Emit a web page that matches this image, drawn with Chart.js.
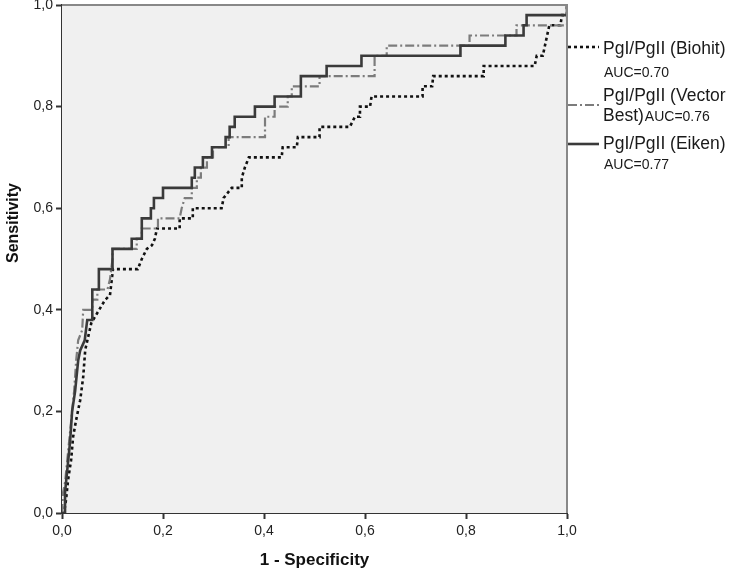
<!DOCTYPE html>
<html><head><meta charset="utf-8">
<script src="https://cdn.jsdelivr.net/npm/chart.js@4/dist/chart.umd.min.js"></script>
<style>html,body{margin:0;padding:0;background:#fff}canvas{display:block}</style>
</head><body>
<canvas id="c" width="730" height="576"></canvas>
<script>
// ---- data ----
const tickLabels = ['0,0', '0,2', '0,4', '0,6', '0,8', '1,0'];
const xTitle = '1 - Specificity';
const yTitle = 'Sensitivity';
const seriesNames = ['PgI/PgII (Biohit)', 'PgI/PgII (Vector Best)', 'PgI/PgII (Eiken)'];
const legendLines = [
  ['PgI/PgII (Biohit)', 'AUC=0.70'],
  ['PgI/PgII (Vector', 'Best)AUC=0.76'],
  ['PgI/PgII (Eiken)', 'AUC=0.77']
];

const biohitFpr = [0, 0.004, 0.008, 0.012, 0.018, 0.022, 0.028, 0.036, 0.042, 0.046,
  0.058, 0.085, 0.095, 0.101, 0.150, 0.158, 0.168, 0.178, 0.184, 0.188,
  0.233, 0.233, 0.259, 0.259, 0.316, 0.320, 0.328, 0.336, 0.356, 0.356,
  0.362, 0.370, 0.435, 0.437, 0.465, 0.467, 0.510, 0.510, 0.570, 0.580,
  0.590, 0.590, 0.610, 0.613, 0.714, 0.714, 0.733, 0.735, 0.835, 0.835,
  0.936, 0.940, 0.952, 0.965, 0.987, 0.990, 1.0, 1.0];
const biohitTpr = [0, 0, 0.026, 0.065, 0.104, 0.15, 0.183, 0.222, 0.268, 0.321,
  0.374, 0.419, 0.429, 0.48, 0.48, 0.50, 0.52, 0.527, 0.54, 0.56,
  0.56, 0.58, 0.58, 0.60, 0.60, 0.62, 0.63, 0.64, 0.64, 0.66,
  0.68, 0.70, 0.70, 0.72, 0.72, 0.74, 0.74, 0.76, 0.76, 0.78,
  0.78, 0.80, 0.80, 0.82, 0.82, 0.84, 0.84, 0.86, 0.86, 0.88,
  0.88, 0.90, 0.90, 0.96, 0.96, 0.98, 0.98, 1.0];

const vectorFpr = [0, 0.002, 0.006, 0.010, 0.014, 0.020, 0.024, 0.028, 0.032, 0.040,
  0.042, 0.060, 0.060, 0.070, 0.070, 0.090, 0.095, 0.100, 0.100, 0.148,
  0.148, 0.158, 0.158, 0.190, 0.190, 0.233, 0.237, 0.243, 0.257, 0.257,
  0.267, 0.267, 0.275, 0.275, 0.287, 0.287, 0.299, 0.299, 0.330, 0.330,
  0.402, 0.402, 0.421, 0.421, 0.447, 0.447, 0.455, 0.455, 0.510, 0.510,
  0.619, 0.619, 0.643, 0.643, 0.807, 0.807, 0.900, 0.900, 1.0, 1.0];
const vectorTpr = [0, 0.04, 0.06, 0.10, 0.14, 0.20, 0.24, 0.30, 0.34, 0.36,
  0.40, 0.40, 0.42, 0.42, 0.44, 0.44, 0.46, 0.50, 0.52, 0.52,
  0.54, 0.54, 0.56, 0.56, 0.58, 0.58, 0.60, 0.62, 0.62, 0.64,
  0.64, 0.66, 0.66, 0.68, 0.68, 0.70, 0.70, 0.72, 0.72, 0.74,
  0.74, 0.78, 0.78, 0.80, 0.80, 0.82, 0.82, 0.84, 0.84, 0.86,
  0.86, 0.90, 0.90, 0.92, 0.92, 0.94, 0.94, 0.96, 0.96, 1.0];

const eikenFpr = [0, 0.006, 0.006, 0.010, 0.016, 0.020, 0.026, 0.032, 0.036, 0.045,
  0.050, 0.060, 0.060, 0.073, 0.073, 0.100, 0.100, 0.138, 0.138, 0.158,
  0.158, 0.176, 0.176, 0.182, 0.182, 0.200, 0.200, 0.257, 0.257, 0.263,
  0.263, 0.279, 0.279, 0.297, 0.297, 0.324, 0.324, 0.332, 0.332, 0.342,
  0.342, 0.382, 0.382, 0.421, 0.421, 0.473, 0.473, 0.524, 0.524, 0.593,
  0.593, 0.789, 0.789, 0.878, 0.878, 0.914, 0.914, 0.920, 0.920, 1.0, 1.0];
const eikenTpr = [0, 0, 0.04, 0.08, 0.14, 0.20, 0.24, 0.30, 0.32, 0.34,
  0.38, 0.38, 0.44, 0.44, 0.48, 0.48, 0.52, 0.52, 0.54, 0.54,
  0.58, 0.58, 0.60, 0.60, 0.62, 0.62, 0.64, 0.64, 0.66, 0.66,
  0.68, 0.68, 0.70, 0.70, 0.72, 0.72, 0.74, 0.74, 0.76, 0.76,
  0.78, 0.78, 0.80, 0.80, 0.82, 0.82, 0.86, 0.86, 0.88, 0.88,
  0.90, 0.90, 0.92, 0.92, 0.94, 0.94, 0.96, 0.96, 0.98, 0.98, 1.0];

// ---- styles ----
const FONT = '"Liberation Sans", Arial, sans-serif';
const styles = [
  { color: '#111111', width: 2.6, dash: [3, 3], cap: 'butt' },
  { color: '#7c7c7c', width: 2.2, dash: [9, 3, 2, 3], cap: 'butt' },
  { color: '#3a3a3a', width: 2.6, dash: [], cap: 'butt' }
];
const legendYs = [[49, 73], [96, 116], [144, 165]];
const legendLineY = [47, 105, 144];

const pairs = (xs, ys) => xs.map((x, i) => ({ x: x, y: ys[i] }));
const series = [pairs(biohitFpr, biohitTpr), pairs(vectorFpr, vectorTpr), pairs(eikenFpr, eikenTpr)];

const plotDeco = {
  id: 'plotDeco',
  beforeDatasetsDraw(chart) {
    const { ctx, chartArea: a } = chart;
    ctx.save();
    ctx.fillStyle = '#f0f0f0';
    ctx.fillRect(a.left, a.top, a.right - a.left, a.bottom - a.top);
    ctx.restore();
  },
  afterDatasetsDraw(chart) {
    const { ctx, chartArea: a } = chart;
    ctx.save();
    ctx.strokeStyle = '#888888';
    ctx.lineWidth = 2;
    ctx.beginPath();
    ctx.moveTo(a.left, a.top);
    ctx.lineTo(a.right, a.top);
    ctx.lineTo(a.right, a.bottom);
    ctx.stroke();
    ctx.restore();
  },
  afterDraw(chart) {
    const { ctx, chartArea: a } = chart;
    ctx.save();
    // y-axis title (placed as in the reference, slightly above the axis centre)
    ctx.translate(14, 223);
    ctx.rotate(-Math.PI / 2);
    ctx.fillStyle = '#111';
    ctx.font = 'bold 16px ' + FONT;
    ctx.textAlign = 'center';
    ctx.textBaseline = 'middle';
    ctx.fillText(yTitle, 0, 0);
    ctx.restore();

    ctx.save();
    legendLines.forEach((lines, i) => {
      const s = styles[i];
      ctx.strokeStyle = s.color;
      ctx.lineWidth = s.width;
      ctx.setLineDash(s.dash);
      ctx.lineCap = s.cap;
      ctx.beginPath();
      ctx.moveTo(a.right + 1, legendLineY[i]);
      ctx.lineTo(a.right + 32, legendLineY[i]);
      ctx.stroke();
      ctx.setLineDash([]);
      ctx.fillStyle = '#1a1a1a';
      ctx.textBaseline = 'middle';
      ctx.textAlign = 'left';
      ctx.font = '17.5px ' + FONT;
      if (i === 1) {
        ctx.fillText(lines[0], a.right + 36, legendYs[i][0]);
        ctx.fillText('Best)', a.right + 36, legendYs[i][1]);
        const w = ctx.measureText('Best)').width;
        ctx.font = '14px ' + FONT;
        ctx.fillText(lines[1].slice(5), a.right + 36 + w + 1, legendYs[i][1] + 1);
      } else {
        ctx.fillText(lines[0], a.right + 36, legendYs[i][0]);
        ctx.font = '14px ' + FONT;
        ctx.fillText(lines[1], a.right + 37, legendYs[i][1]);
      }
    });
    ctx.restore();
  }
};

const orders = [2, 1, 0];
new Chart(document.getElementById('c'), {
  type: 'scatter',
  data: {
    datasets: series.map((d, i) => ({
      label: seriesNames[i],
      data: d,
      showLine: true,
      borderColor: styles[i].color,
      borderWidth: styles[i].width,
      borderDash: styles[i].dash,
      borderCapStyle: styles[i].cap,
      borderJoinStyle: 'miter',
      pointRadius: 0,
      pointHoverRadius: 0,
      fill: false,
      tension: 0,
      order: orders[i]
    }))
  },
  options: {
    responsive: false,
    animation: false,
    events: [],
    layout: { padding: { left: 0, right: 163, top: 5, bottom: 0 } },
    plugins: { legend: { display: false }, tooltip: { enabled: false } },
    scales: {
      x: {
        type: 'linear', min: 0, max: 1,
        afterFit(s) { s.height = 63; s.paddingLeft = 0; s.paddingRight = 0; },
        ticks: {
          stepSize: 0.2, padding: 4, color: '#222',
          font: { family: FONT, size: 14 },
          maxRotation: 0,
          callback: (v) => tickLabels[Math.round(v * 5)]
        },
        grid: { drawOnChartArea: false, drawTicks: true, tickLength: 6, tickWidth: 2, color: '#333' },
        border: { display: true, color: '#333', width: 2 },
        title: { display: true, text: xTitle, color: '#111', font: { family: FONT, size: 17, weight: 'bold' }, padding: { top: 8, bottom: 5 } }
      },
      y: {
        type: 'linear', min: 0, max: 1,
        afterFit(s) { s.width = 62; s.paddingTop = 0; s.paddingBottom = 0; },
        ticks: {
          stepSize: 0.2, padding: 3, color: '#222',
          font: { family: FONT, size: 14 },
          callback: (v) => tickLabels[Math.round(v * 5)]
        },
        grid: { drawOnChartArea: false, drawTicks: true, tickLength: 6, tickWidth: 2, color: '#333' },
        border: { display: true, color: '#333', width: 2 },
        title: { display: false }
      }
    }
  },
  plugins: [plotDeco]
});
</script>
</body></html>
